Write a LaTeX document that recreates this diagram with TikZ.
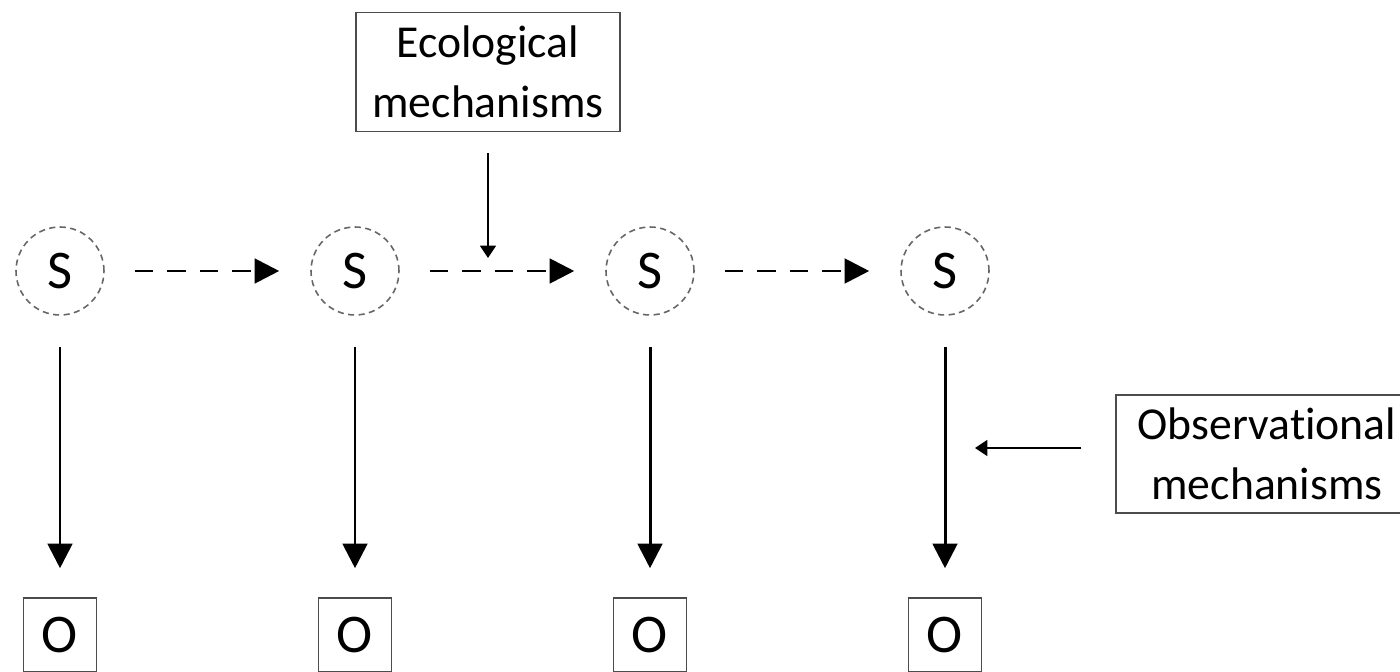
\documentclass[tikz,border=0pt]{standalone}
\usepackage{fontspec}
\setmainfont{Carlito}[Ligatures=NoCommon]
\usetikzlibrary{arrows.meta}
\tikzset{
  state/.style={circle, draw=black!60, dashed, dash pattern=on 3.5pt off 2.5pt, line width=0.9pt, minimum size=1.76cm, inner sep=0pt, font=\fontsize{31}{36}\selectfont},
  obs/.style={rectangle, draw=black!70, line width=0.9pt, minimum width=1.46cm, minimum height=1.48cm, inner sep=0pt, font=\fontsize{31}{36}\selectfont},
  mech/.style={rectangle, draw=black!70, line width=0.9pt, align=center, inner sep=0pt, font=\fontsize{26}{34}\selectfont},
  bigarrow/.style={-{Triangle[length=14pt,width=14pt]}, line width=1.7pt},
  dasharrow/.style={bigarrow, dash pattern=on 10.5pt off 8pt},
  smallarrow/.style={-{Triangle[length=7pt,width=9pt]}, line width=1pt},
}
\begin{document}
\begin{tikzpicture}[x=0.02cm, y=-0.02cm]
\useasboundingbox (0,0) rectangle (1400,672);
\clip (0,0) rectangle (1400,672);
\foreach \i/\x in {1/60, 2/355, 3/650, 4/945} {
  \node[state] (s\i) at (\x,271) {S};
  \node[obs] (o\i) at (\x+0,635) {O};
}
\node[mech, minimum width=5.28cm, minimum height=2.38cm] (eco) at (488,72) {Ecological\\mechanisms};
\node[mech, minimum width=6.04cm, minimum height=2.36cm] (obm) at (1267,454) {Observational\\mechanisms};
\foreach \a/\b in {1/2, 2/3, 3/4} {
  \draw[dasharrow, shorten <=30*0.02cm, shorten >=31*0.02cm] (s\a) -- (s\b);
}
\foreach \i in {1,2,3,4} {
  \draw[bigarrow, shorten <=31*0.02cm, shorten >=29*0.02cm] (s\i) -- (o\i);
}
\coordinate (eh) at (488,271);
\draw[smallarrow, shorten <=21*0.02cm, shorten >=13*0.02cm] (eco.south) -- (eh);
\coordinate (oh) at (945,448);
\draw[smallarrow, shorten <=34*0.02cm, shorten >=30*0.02cm] (obm.west |- oh) -- (oh);
\end{tikzpicture}
\end{document}
